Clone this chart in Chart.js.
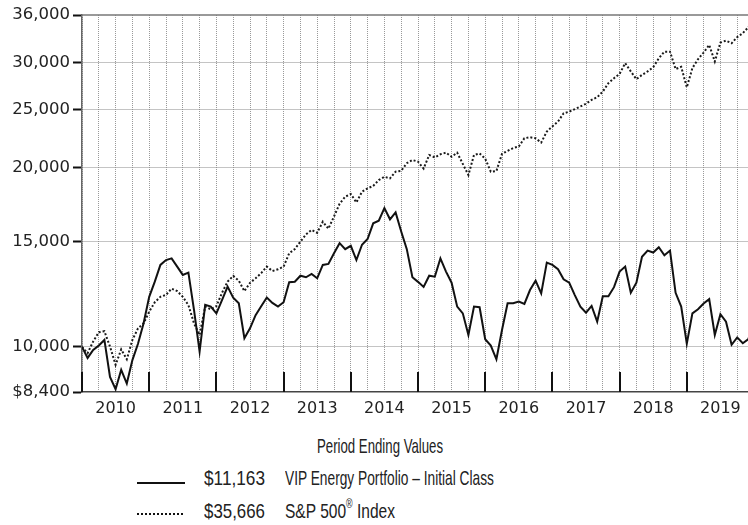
<!DOCTYPE html>
<html>
<head>
<meta charset="utf-8">
<script src="https://cdn.jsdelivr.net/npm/chart.js@4.4.0/dist/chart.umd.min.js"></script>
<style>
  body { margin:0; width:748px; height:525px; overflow:hidden; background:#fff; position:relative; }
  #wrap { position:absolute; left:0; top:0; width:754px; height:425px; }
  .t { position:absolute; font-family:"Liberation Sans Narrow","Liberation Sans",sans-serif; font-size:21px; line-height:21px; color:#222; white-space:nowrap; transform-origin:0 0; }
  .t sup { font-size:12px; line-height:0; position:relative; top:-2px; }
  .swatch { position:absolute; left:137px; width:48px; height:0; }
</style>
</head>
<body>
<div id="wrap"><canvas id="growth" width="754" height="425"></canvas></div>

<div class="t" data-w="126" style="left:317px; top:435px">Period Ending Values</div>

<div class="swatch" style="top:482px; border-top:2.5px solid #111"></div>
<div class="t" data-w="61" style="left:204px; top:467px">$11,163</div>
<div class="t" data-w="209" style="left:285px; top:467px">VIP Energy Portfolio – Initial Class</div>

<div class="swatch" style="top:513px; width:46px; border-top:2.5px dotted #111"></div>
<div class="t" data-w="61" style="left:204px; top:500px">$35,666</div>
<div class="t" data-w="110" style="left:285px; top:500px">S&amp;P 500<sup>®</sup> Index</div>

<script>
// hypothetical $10,000 growth, month-end values Dec 2009 .. Dec 2019
const yearLabels = ['2010','2011','2012','2013','2014','2015','2016','2017','2018','2019'];
const yTicks = [8400, 10000, 15000, 20000, 25000, 30000, 36000];

const vipEnergy = [
  10000, 9580, 9880, 10050, 10270, 8900, 8490, 9150, 8680, 9500, 10120, 10950,
  12130, 12860, 13720, 13980, 14070, 13630, 13200, 13320, 11530, 9820, 11760, 11680,
  11380, 11980, 12620, 12090, 11830, 10340, 10740, 11300, 11700, 12100, 11850, 11680,
  11880, 12830, 12860, 13160, 13080, 13250, 13030, 13720, 13770, 14350, 14920, 14580,
  14770, 13980, 14830, 15160, 16110, 16270, 17080, 16360, 16800, 15610, 14580, 13080,
  12850, 12600, 13160, 13110, 14070, 13370, 12810, 11680, 11380, 10470, 11680, 11650,
  10300, 10050, 9530, 10670, 11830, 11830, 11910, 11800, 12450, 12910, 12290, 13840,
  13720, 13490, 12980, 12810, 12210, 11680, 11410, 11710, 11020, 12160, 12160, 12590,
  13370, 13630, 12320, 12810, 14160, 14500, 14390, 14690, 14240, 14500, 12320, 11680,
  10120, 11380, 11560, 11820, 12020, 10470, 11340, 11020, 10080, 10370, 10140, 10300,
  11163
];

const sp500 = [
  10000, 9760, 10210, 10580, 10620, 10010, 9330, 9900, 9530, 10270, 10740, 10950,
  11450, 11880, 12130, 12220, 12520, 12400, 12130, 11750, 10950, 10470, 11680, 11560,
  11700, 12320, 12860, 13150, 12910, 12400, 12800, 13030, 13290, 13630, 13400, 13490,
  13630, 14350, 14580, 15010, 15430, 15700, 15530, 16210, 15780, 16540, 17370, 17850,
  18040, 17460, 18200, 18440, 18610, 19040, 19280, 19160, 19660, 19730, 20320, 20570,
  20440, 19900, 20970, 20780, 21030, 21160, 20830, 21160, 20260, 19410, 20970, 21100,
  20680, 19660, 19710, 21060, 21310, 21540, 21670, 22370, 22460, 22370, 22000, 22950,
  23420, 23860, 24630, 24790, 25030, 25290, 25560, 25940, 26210, 26790, 27670, 28210,
  28680, 29890, 28950, 28100, 28570, 28950, 29430, 30460, 31250, 31250, 29220, 29480,
  27230, 29330, 30350, 31130, 32070, 30080, 32360, 32610, 32290, 33050, 33560, 34360,
  35666
];

// squeeze the caption text to the widths of the condensed face in the original
document.querySelectorAll('.t[data-w]').forEach(el => {
  const w = el.getBoundingClientRect().width;
  el.style.transform = 'scaleX(' + (Number(el.dataset.w) / w).toFixed(3) + ')';
});

Chart.defaults.font.family = 'DejaVu Sans';
Chart.defaults.color = '#222';

// solid top frame + the short black year-boundary marks above the x axis
const frameMarks = {
  id: 'frameMarks',
  afterDraw(chart) {
    const {ctx, chartArea} = chart;
    const xs = chart.scales.x;
    ctx.save();
    ctx.strokeStyle = '#777';
    ctx.lineWidth = 1.5;
    ctx.beginPath();
    ctx.moveTo(chartArea.left, chartArea.top);
    ctx.lineTo(chartArea.right, chartArea.top);
    ctx.stroke();

    ctx.strokeStyle = '#111';
    ctx.lineWidth = 2;
    for (let m = 0; m <= 120; m += 12) {
      const x = Math.round(xs.getPixelForValue(m));
      ctx.beginPath();
      ctx.moveTo(x, chartArea.bottom);
      ctx.lineTo(x, chartArea.bottom - 20);
      ctx.stroke();
    }
    ctx.restore();
  }
};

new Chart(document.getElementById('growth'), {
  type: 'line',
  data: {
    datasets: [
      {
        label: 'VIP Energy Portfolio – Initial Class',
        data: vipEnergy.map((v, i) => ({x: i, y: v})),
        borderColor: '#111',
        borderWidth: 2,
        pointRadius: 0,
        tension: 0
      },
      {
        label: 'S&P 500® Index',
        data: sp500.map((v, i) => ({x: i, y: v})),
        borderColor: '#1a1a1a',
        borderWidth: 2,
        borderDash: [2, 2],
        pointRadius: 0,
        tension: 0
      }
    ]
  },
  options: {
    responsive: false,
    animation: false,
    devicePixelRatio: 1,
    layout: {padding: {top: 15, right: 0, left: 0, bottom: 0}},
    plugins: {legend: {display: false}, tooltip: {enabled: false}},
    scales: {
      x: {
        type: 'linear',
        min: 0,
        max: 120,
        afterFit: s => { s.height = 33; s.paddingRight = 0; },
        ticks: {
          stepSize: 3,
          autoSkip: false,
          maxRotation: 0,
          padding: 7,
          font: {size: 16},
          callback: v => {
            const k = (v - 6) / 12;
            return Number.isInteger(k) && k >= 0 && k < yearLabels.length ? yearLabels[k] : '';
          }
        },
        grid: {color: '#999', lineWidth: 1, drawTicks: false},
        border: {color: '#444', width: 1.5, dash: [1, 1]}
      },
      y: {
        type: 'logarithmic',
        min: 8400,
        max: 36000,
        afterFit: s => { s.width = 82; },
        afterBuildTicks: s => { s.ticks = yTicks.map(v => ({value: v})); },
        ticks: {
          padding: 3,
          font: {size: 16.5},
          callback: v => v === 8400 ? '$8,400' : Number(v).toLocaleString('en-US')
        },
        grid: {
          color: c => (c.tick && (c.tick.value === 8400 || c.tick.value === 36000)) ? 'rgba(0,0,0,0)' : '#888',
          lineWidth: 1,
          drawTicks: true,
          tickLength: 9,
          tickWidth: 2,
          tickColor: '#111',
          tickBorderDash: []
        },
        border: {color: '#666', width: 1.5, dash: [1, 1]}
      }
    }
  },
  plugins: [frameMarks]
});
</script>
</body>
</html>
